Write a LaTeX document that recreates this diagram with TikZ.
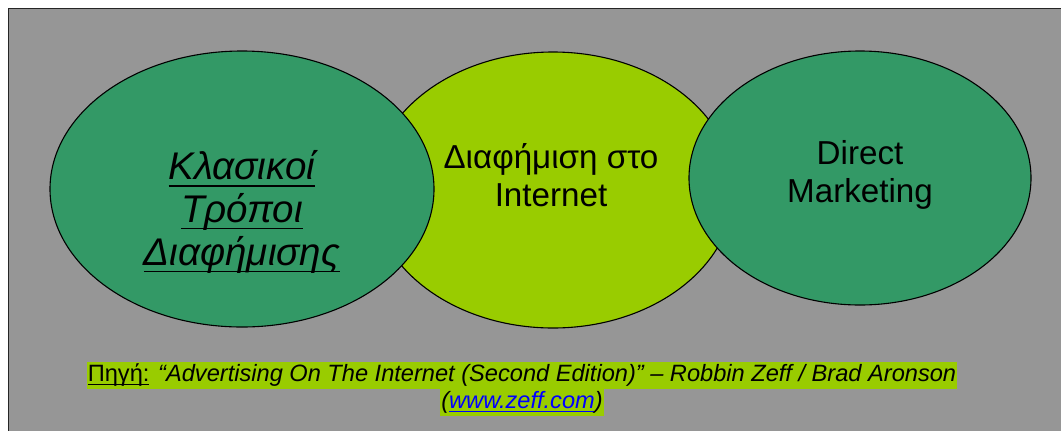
\documentclass[tikz,border=0pt]{standalone}
\usepackage{fontspec}
\setmainfont{Liberation Sans}
\usetikzlibrary{positioning,shapes.geometric}
\definecolor{slidegrey}{HTML}{969696}
\definecolor{seagreen}{HTML}{339966}
\definecolor{limegreen}{HTML}{99CC00}
\definecolor{linkblue}{HTML}{0000FF}
% underline at a fixed depth, whatever the descenders
\newlength{\ulwd}
\newcommand{\ulword}[2][.18em]{%
  \settowidth{\ulwd}{#2}\rlap{\rule[-#1]{\ulwd}{1.7bp}}#2}
\tikzset{
  blob/.style={ellipse, draw=black, line width=1.1bp, inner sep=0pt},
  classic/.style={blob, fill=seagreen},
  online/.style={blob, fill=limegreen},
  blobtext/.style={align=center, text=black, inner sep=0pt},
  % source note: each line carries its own highlight
  srcline/.style={fill=limegreen, inner xsep=1bp, inner ysep=0pt,
                  minimum height=27bp, text=black,
                  font=\fontsize{23.7}{26}\selectfont\itshape},
}

\begin{document}
\begin{tikzpicture}[x=1bp, y=-1bp]
\useasboundingbox (0,0) rectangle (1061,430);

% ------------------------------------------------------------- slide
\fill[slidegrey, draw=black!85, line width=1bp] (8,8) rectangle (1075,445);

% ------------------------------------------------------------- the three fields
\node[online,  minimum width=362bp, minimum height=276bp] (web)    at (553,190) {};
\node[classic, minimum width=384bp, minimum height=276bp] (trad)   at (242,189) {};
\node[classic, minimum width=342bp, minimum height=254bp] (direct) at (860,178) {};

\node[blobtext, font=\fontsize{38.7}{43}\selectfont\itshape] (tradtxt) at (242,212)
  {\ulword{Κλασικοί}\\\ulword{Τρόποι}\\\ulword{Διαφήμισης}};
\node[blobtext, font=\fontsize{33.3}{38}\selectfont] (webtxt) at (551,175)
  {Διαφήμιση στο\\Internet};
\node[blobtext, font=\fontsize{33.3}{38}\selectfont] (directtxt) at (860,175)
  {Direct\\Marketing};

% ------------------------------------------------------------- source
\node[srcline] (src) at (522,375)
  {{\upshape\ulword[.16em]{Πηγή:}} “Advertising On The Internet (Second Edition)” – Robbin Zeff / Brad Aronson};
\node[srcline, below=0pt of src] (url)
  {(\textcolor{linkblue}{\ulword[.16em]{www.zeff.com}})};

\end{tikzpicture}
\end{document}
